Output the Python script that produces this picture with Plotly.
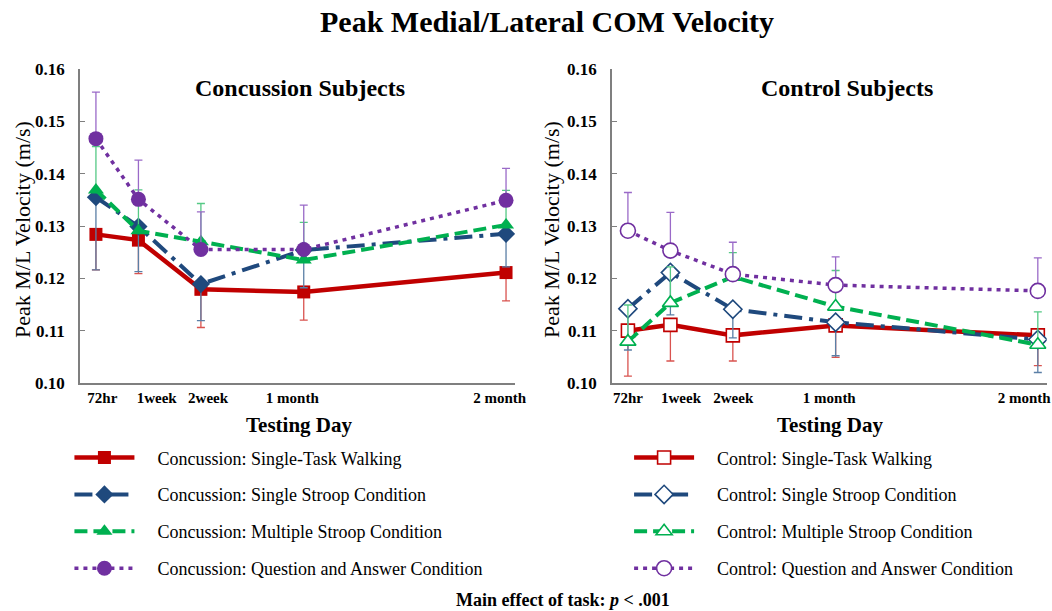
import plotly.graph_objects as go

# testing days and where they sit on the original (uneven) x axis
days = ["72hr", "1week", "2week", "1 month", "2 month"]
day_pos = [0, 1, 2.47, 4.89, 9.65]
conc_label_pos = [0.15, 1.43, 2.64, 4.62, 9.5]
ctrl_label_pos = [0.0, 1.25, 2.48, 4.74, 9.33]

conditions = ["Single-Task Walking", "Single Stroop Condition",
              "Multiple Stroop Condition", "Question and Answer Condition"]

# concussion subjects: means and one-sided error bars (m/s)
conc_walk = [0.1284, 0.1273, 0.1179, 0.1174, 0.1211]
conc_walk_err = [0.0068, 0.0064, 0.0073, 0.0054, 0.0054]
conc_single = [0.1355, 0.1299, 0.1189, 0.1254, 0.1285]
conc_single_err = [0.0139, 0.0086, 0.0070, 0.0072, 0.0063]
conc_multi = [0.1369, 0.1291, 0.1270, 0.1235, 0.1302]
conc_multi_err = [0.0083, 0.0078, 0.0073, 0.0072, 0.0066]
conc_qa = [0.1467, 0.1351, 0.1255, 0.1255, 0.1349]
conc_qa_err = [0.0089, 0.0075, 0.0072, 0.0085, 0.0061]

# control subjects
ctrl_walk = [0.1100, 0.1111, 0.1091, 0.1110, 0.1091]
ctrl_walk_err = [0.0087, 0.0069, 0.0049, 0.0061, 0.0058]
ctrl_single = [0.1142, 0.1211, 0.1141, 0.1116, 0.1083]
ctrl_single_err = [0.0079, 0.0081, 0.0055, 0.0064, 0.0063]
ctrl_multi = [0.1079, 0.1153, 0.1203, 0.1146, 0.1073]
ctrl_multi_err = [0.0070, 0.0069, 0.0046, 0.0069, 0.0063]
ctrl_qa = [0.1291, 0.1253, 0.1208, 0.1187, 0.1176]
ctrl_qa_err = [0.0073, 0.0073, 0.0061, 0.0054, 0.0063]

y_ticks = [0.10, 0.11, 0.12, 0.13, 0.14, 0.15, 0.16]

# styling per condition
line_colors = ["#C00000", "#1F497D", "#00B050", "#7030A0"]
err_colors = ["#D9534F", "#5B7FA6", "#55C985", "#9A6AC8"]
dashes = ["solid", "18px,7px,4px,7px", "13px,6px", "4px,5px"]
widths = [4.5, 4, 4, 3.5]
symbols = ["square", "diamond", "triangle-up", "circle"]
sizes = [13, 14, 14, 15]
err_up = [False, False, True, True]

SERIF = "Liberation Serif, Times New Roman, serif"
PAD = "\u00a0" * 4  # gap between legend symbol and label

fig = go.Figure()

groups = [
    ("Concussion", [conc_walk, conc_single, conc_multi, conc_qa],
     [conc_walk_err, conc_single_err, conc_multi_err, conc_qa_err], True, "x", "y", "legend"),
    ("Control", [ctrl_walk, ctrl_single, ctrl_multi, ctrl_qa],
     [ctrl_walk_err, ctrl_single_err, ctrl_multi_err, ctrl_qa_err], False, "x2", "y2", "legend2"),
]

for grp, series, errs, filled, xa, ya, leg in groups:
    for i, cond in enumerate(conditions):
        zeros = [0] * len(errs[i])
        fig.add_trace(go.Scatter(
            x=day_pos, y=series[i],
            mode="lines+markers",
            name=f"{PAD}{grp}: {cond}",
            xaxis=xa, yaxis=ya, legend=leg,
            legendgroup=f"{grp}{i}",
            line=dict(color=line_colors[i], width=widths[i], dash=dashes[i]),
            marker=dict(
                symbol=symbols[i], size=sizes[i],
                color=line_colors[i] if filled else "white",
                line=dict(color=line_colors[i], width=0 if filled else 1.6),
            ),
            error_y=dict(
                type="data", symmetric=False,
                array=errs[i] if err_up[i] else zeros,
                arrayminus=zeros if err_up[i] else errs[i],
                color=err_colors[i], thickness=1.3, width=4,
            ),
        ))

x_common = dict(range=[-0.376, 9.86], showline=True, linecolor="#7F7F7F", linewidth=1.5,
                showgrid=False, zeroline=False, ticks="", tickmode="array",
                ticktext=days, automargin=False,
                tickfont=dict(family=SERIF, size=15, color="black", weight="bold"))
y_common = dict(range=[0.10, 0.16], showline=True, linecolor="#7F7F7F", linewidth=1.5,
                showgrid=False, zeroline=False, ticks="inside", ticklen=5, tickcolor="#7F7F7F",
                tickvals=y_ticks, tickformat=".2f", ticklabelstandoff=10, automargin=False,
                tickfont=dict(family=SERIF, size=17, color="black", weight="bold"))

legend_common = dict(font=dict(family=SERIF, size=18, color="black"), itemwidth=60,
                     tracegroupgap=10.5, yanchor="top", xanchor="left",
                     bgcolor="rgba(0,0,0,0)")

fig.update_layout(
    width=1052, height=611,
    margin=dict(l=0, r=0, t=0, b=0, autoexpand=False),
    plot_bgcolor="white", paper_bgcolor="white",
    xaxis=dict(domain=[0.076, 0.4895], anchor="y", tickvals=conc_label_pos, **x_common),
    yaxis=dict(domain=[0.3732, 0.887], anchor="x", **y_common),
    xaxis2=dict(domain=[0.5817, 0.995], anchor="y2", tickvals=ctrl_label_pos, **x_common),
    yaxis2=dict(domain=[0.3732, 0.887], anchor="x2", **y_common),
    legend=dict(x=0.066, y=0.281, **legend_common),
    legend2=dict(x=0.598, y=0.281, **legend_common),
    showlegend=True,
)

def txt(text, x, y, size, bold=True, angle=0):
    fig.add_annotation(text=f"<b>{text}</b>" if bold else text, x=x, y=y,
                       xref="paper", yref="paper", xanchor="center", yanchor="middle",
                       showarrow=False, textangle=angle,
                       font=dict(family=SERIF, size=size, color="black"))

txt("Peak Medial/Lateral COM Velocity", 547 / 1052, 1 - 22 / 611, 30)
txt("Concussion Subjects", 300 / 1052, 1 - 88 / 611, 24)
txt("Control Subjects", 847 / 1052, 1 - 88 / 611, 24)
txt("Testing Day", 299 / 1052, 1 - 425 / 611, 21)
txt("Testing Day", 830 / 1052, 1 - 425 / 611, 21)
txt("Peak M/L Velocity (m/s)", 22 / 1052, 1 - 230 / 611, 22, bold=False, angle=-90)
txt("Peak M/L Velocity (m/s)", 551 / 1052, 1 - 230 / 611, 22, bold=False, angle=-90)
txt("Main effect of task: <i>p</i> < .001", 563 / 1052, 1 - 600 / 611, 18)

fig.write_html("out.html", post_script="document.body.style.margin='0';",
               config={"displayModeBar": False})
